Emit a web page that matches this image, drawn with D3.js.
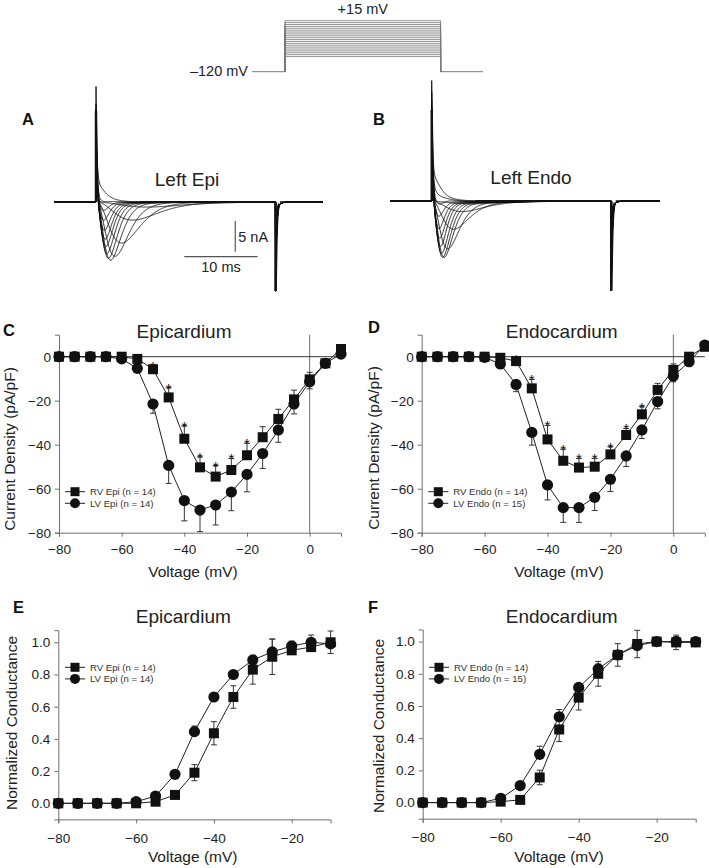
<!DOCTYPE html>
<html><head><meta charset="utf-8">
<script src="https://cdn.jsdelivr.net/npm/d3@7"></script>
<style>body{margin:0;background:#fff} text{font-family:Arial,"Liberation Sans",Helvetica,sans-serif}</style>
</head><body><svg id="c" width="709" height="868" style="background:#fff"></svg>
<script>
// ---------- Protocol ----------
const protocolHolding = -120;
const protocolLevels = [-80,-75,-70,-65,-60,-55,-50,-45,-40,-35,-30,-25,-20,-15,-10,-5,0,5,10,15];
const protocolTimes = [-7, 0, 33, 42]; // schematic ms: start, step on, step off, end

// ---------- Current traces (A: Left Epi, B: Left Endo) ----------
const traceVoltages = [-55,-50,-45,-40,-35,-30,-25,-20,-15,-10,-5,0,5,10];
const epiPeakTime = [7.0,5.0,3.5,2.6,2.0,1.7,1.5,1.35,1.25,1.15,1.05,1.0,0.95,0.9];
const epiPeakAmp  = [-0.8,-2.9,-6.6,-8.7,-9.3,-9.0,-8.2,-7.1,-5.9,-4.5,-2.9,-1.5,-0.4,0.2];
const epiOutward  = [0,0,0,0,0,0,0,0,0,0,0,0.4,1.2,4.0];
const epiSlow     = [0.05,0.1,0.15,0.2,0.25,0.25,0.25,0.22,0.2,0.15,0.1,0.05,0.02,0];
const endoPeakTime = [5.5,4.2,3.0,2.2,1.7,1.5,1.35,1.2,1.1,1.0,0.95,0.9,0.85,0.8];
const endoPeakAmp  = [-0.4,-1.6,-4.4,-7.5,-8.8,-8.8,-8.2,-7.1,-5.8,-4.3,-2.6,-1.1,-0.3,0.6];
const endoOutward  = [0,0,0,0,0,0,0,0,0,0,0.6,1.6,3.0,4.8];
const endoSlow     = [0.1,0.2,0.3,0.4,0.5,0.5,0.45,0.4,0.35,0.3,0.2,0.12,0.06,0];

// ---------- I-V (C, D) ----------
const ivVoltages = [-80,-75,-70,-65,-60,-55,-50,-45,-40,-35,-30,-25,-20,-15,-10,-5,0,5,10];
const rvEpiIV    = [0,0,0,0,0,-1,-5.7,-18.5,-37.3,-50.3,-54.5,-51.5,-44.8,-36.6,-28.3,-19.4,-10.3,-3,3.5];
const rvEpiIVErr = [0,0,0,0,0,0.5,1.5,4.4,5.9,4.8,5,5.3,5.5,4.8,4.4,4.2,3.2,1,1];
const lvEpiIV    = [0,0,0,0,-1,-5.3,-21.5,-49.4,-65.4,-69.7,-67.4,-61.5,-53.5,-44,-33.3,-21.5,-11.4,-3,1.2];
const lvEpiIVErr = [0,0,0,0,0.5,1,4.2,8.2,9.2,9.8,9.1,8.5,7.9,6.8,5.6,4.5,3.2,1,1];
const epiStars   = [-50,-45,-40,-35,-30,-25,-20];
const rvEndoIV    = [0,0,0,0,0,-0.5,-2,-14.4,-37.6,-47.3,-50.4,-50,-44.4,-35.6,-26.2,-15.1,-6,0,4.5];
const rvEndoIVErr = [0,0,0,0,0,0.5,1,4.1,6.4,5.3,4.2,3.8,3.5,3,3.5,3,2.7,1,1];
const lvEndoIV    = [0,0,0,0,-0.3,-3.3,-12.6,-34.4,-58.3,-68.6,-68.6,-63.9,-55.7,-45.1,-33.3,-20.4,-8.8,-2.3,5.3];
const lvEndoIVErr = [0,0,0,0,0.5,1,3.3,5.8,6.8,6.7,6.7,6,5.6,4.8,3.9,3.3,2.6,1,1];
const endoStars   = [-50,-45,-40,-35,-30,-25,-20,-15,-10];
const ivXTicks = [-80,-60,-40,-20,0];
const ivYTicks = [0,-20,-40,-60,-80];

// ---------- Conductance (E, F) ----------
const gVoltages = [-80,-75,-70,-65,-60,-55,-50,-45,-40,-35,-30,-25,-20,-15,-10];
const rvEpiG    = [0,0,0,0,0,0.01,0.052,0.19,0.435,0.66,0.83,0.91,0.95,0.97,1.0];
const rvEpiGErr = [0,0,0,0,0,0.01,0.01,0.05,0.072,0.07,0.09,0.11,0.02,0.02,0.07];
const lvEpiG    = [0,0,0,0,0.01,0.045,0.18,0.445,0.66,0.8,0.89,0.94,0.977,1.0,0.99];
const lvEpiGErr = [0,0,0,0,0,0.01,0.01,0.035,0.02,0.01,0.01,0.08,0.03,0.045,0.02];
const rvEndoG    = [0,0,0,0,0.006,0.017,0.156,0.454,0.652,0.80,0.917,0.985,1.0,0.995,0.995];
const rvEndoGErr = [0,0,0,0,0,0.005,0.045,0.075,0.077,0.077,0.07,0.085,0.01,0.045,0.02];
const lvEndoG    = [0,0,0,0,0.027,0.106,0.30,0.533,0.715,0.83,0.917,0.975,1.0,1.0,1.0];
const lvEndoGErr = [0,0,0,0,0.01,0.01,0.05,0.045,0.01,0.03,0.01,0.01,0.01,0.03,0.01];
const gXTicks = [-80,-60,-40,-20];
const gYTicks = [0,0.2,0.4,0.6,0.8,1.0];

const svg = d3.select('#c');
const FONT = 'Arial, "Liberation Sans", Helvetica, sans-serif';

// ================= Protocol =================
(function(){
  const x = d3.scaleLinear().domain([protocolTimes[0], protocolTimes[3]]).range([252, 483]);
  const y = d3.scaleLinear().domain([-120, 15]).range([71.7, 20.7]);
  const g = svg.append('g').attr('fill','none').attr('stroke','#7a7a7a').attr('stroke-width',1);
  const line = d3.line().x(d=>x(d[0])).y(d=>y(d[1]));
  g.append('path').attr('d', line([[protocolTimes[0],protocolHolding],[protocolTimes[1],protocolHolding]]));
  g.append('path').attr('d', line([[protocolTimes[2],protocolHolding],[protocolTimes[3],protocolHolding]]));
  protocolLevels.forEach(v=>{
    g.append('path').attr('d', line([[protocolTimes[1],protocolHolding],[protocolTimes[1],v],[protocolTimes[2],v],[protocolTimes[2],protocolHolding]]))
      .attr('stroke-width',0.8);
  });
  svg.append('text').attr('x',248).attr('y',76).attr('text-anchor','end').attr('font-size',14.5).attr('fill','#222').text('–120 mV');
  svg.append('text').attr('x',(x(protocolTimes[1])+x(protocolTimes[2]))/2).attr('y',13.5).attr('text-anchor','middle').attr('font-size',14.5).attr('fill','#222').text('+15 mV');
})();

// ================= Traces =================
function gam(t, tp){ if(t<=0) return 0; const r=t/tp; return Math.pow(r,3)*Math.exp(3*(1-r)); }
function tracePanel(o){
  const pxPerMs = 7.33, pxPerNA = 6.13;
  const tStart = (o.xs - o.x0)/pxPerMs, tEnd = (o.xe - o.x0)/pxPerMs, tStep = 24.5;
  const x = d3.scaleLinear().domain([0, 10]).range([o.x0, o.x0 + 10*pxPerMs]);
  const y = d3.scaleLinear().domain([0, 10]).range([o.base, o.base - 10*pxPerNA]);
  const line = d3.line().x(d=>x(d[0])).y(d=>y(d[1]));
  const g = svg.append('g').attr('fill','none').attr('stroke','#111');
  const capAmp = (o.base - o.spikeTop)/pxPerNA;
  const tailAmp = (o.tailBottom - o.base)/pxPerNA;
  o.amp.forEach((a,i)=>{
    const pts = [[tStart,0],[0,0]];
    for(let t=0; t<=tStep; t+=0.04){
      const I = capAmp*Math.exp(-t/0.12) + o.out[i]*Math.exp(-t/1.2) + a*gam(t,o.tp[i])
              - o.slow[i]*(1-Math.exp(-t/0.5))*Math.exp(-t/9);
      pts.push([t,I]);
    }
    const endLevel = pts[pts.length-1][1];
    for(let t=tStep; t<=tEnd; t+=0.04){
      const dt=t-tStep;
      const I = endLevel*Math.exp(-dt/0.3) - tailAmp*Math.exp(-dt/0.13) - 0.5*(1-Math.exp(-dt/0.1))*Math.exp(-dt/0.6);
      pts.push([t,I]);
    }
    pts.push([tEnd,0]);
    g.append('path').attr('d', line(pts)).attr('stroke-width',0.9);
  });
  // capacitive spike & tail spike (thick)
  const sp = [[0,0],[0,capAmp]];
  for(let t=0;t<=0.35;t+=0.02) sp.push([t, capAmp*Math.exp(-t/0.12)]);
  g.append('path').attr('d', line(sp)).attr('stroke-width',2.4);
  const tp = [[tStep,0],[tStep,-tailAmp]];
  for(let t=tStep;t<=tStep+0.5;t+=0.02) tp.push([t, -tailAmp*Math.exp(-(t-tStep)/0.13)]);
  g.append('path').attr('d', line(tp)).attr('stroke-width',2.6);
  g.append('path').attr('d', line([[tStart,0],[0,0]])).attr('stroke-width',1.6);
  g.append('path').attr('d', line([[tStep+0.6,0],[tEnd,0]])).attr('stroke-width',1.6);
  g.append('path').attr('d', line([[6,0],[tStep,0]])).attr('stroke-width',1.8);
  svg.append('text').attr('x',o.titleX).attr('y',o.titleY).attr('text-anchor','middle').attr('font-size',19).attr('fill','#222').text(o.title);
  if(o.scaleBar){
    const sb = svg.append('g').attr('stroke','#555').attr('stroke-width',1.2);
    sb.append('line').attr('x1',x(19)).attr('x2',x(19)).attr('y1',y(-3.1)).attr('y2',y(-8.1));
    sb.append('line').attr('x1',x(12.05)).attr('x2',x(22.05)).attr('y1',y(-8.9)).attr('y2',y(-8.9));
    svg.append('text').attr('x',x(19)+3).attr('y',y(-6.5)).attr('font-size',14.5).attr('fill','#222').text('5 nA');
    svg.append('text').attr('x',x(17.05)).attr('y',y(-8.9)+15).attr('text-anchor','middle').attr('font-size',14.5).attr('fill','#222').text('10 ms');
  }
}
tracePanel({x0:96, xs:54, xe:323, base:202, spikeTop:111, tailBottom:291, amp:epiPeakAmp, tp:epiPeakTime, out:epiOutward, slow:epiSlow, title:'Left Epi', titleX:187, titleY:186, scaleBar:true});
tracePanel({x0:431.7, xs:390.7, xe:660, base:201, spikeTop:110, tailBottom:290.5, amp:endoPeakAmp, tp:endoPeakTime, out:endoOutward, slow:endoSlow, title:'Left Endo', titleX:531, titleY:183.5, scaleBar:false});

// ================= Scatter panels =================
function panel(o){
  const x = d3.scaleLinear().domain(o.xDomain).range(o.xRange);
  const y = d3.scaleLinear().domain(o.yDomain).range(o.yRange);
  const g = svg.append('g');
  const xa = g.append('g').attr('transform',`translate(0,${o.yRange[0]})`)
    .call(d3.axisBottom(x).tickValues(o.xTicks).tickSize(4).tickPadding(o.xPad).tickFormat(o.xFmt));
  const ya = g.append('g').attr('transform',`translate(${o.xRange[0]},0)`)
    .call(d3.axisLeft(y).tickValues(o.yTicks).tickSize(4).tickPadding(4).tickFormat(o.yFmt));
  [xa,ya].forEach(a=>{
    a.selectAll('path,line').attr('stroke','#707070');
    a.selectAll('text').attr('font-size',13.5).attr('fill','#222').attr('font-family',FONT);
  });
  if(o.zeroLines){
    g.append('line').attr('x1',x(0)).attr('x2',x(0)).attr('y1',y(o.yDomain[1])).attr('y2',y(o.yDomain[0])).attr('stroke','#707070');
    g.append('line').attr('x1',x(o.xDomain[0])).attr('x2',x(o.xDomain[1])).attr('y1',y(0)).attr('y2',y(0)).attr('stroke','#222').attr('stroke-width',0.9);
  }
  const line = d3.line().x(d=>x(d[0])).y(d=>y(d[1]));
  o.series.forEach(s=>{
    const pts = o.volts.map((v,i)=>[v,s.vals[i]]);
    g.append('path').attr('d',line(pts)).attr('fill','none').attr('stroke','#222').attr('stroke-width',1);
  });
  o.series.forEach(s=>{
    const eg = g.append('g').attr('stroke','#333').attr('stroke-width',1);
    o.volts.forEach((v,i)=>{
      const e = s.err[i]; if(!e) return;
      const ends = s.errDir==='both' ? [1,-1] : [s.errDir==='up'?1:-1];
      ends.forEach(d=>{
        const yv = y(s.vals[i]+d*e);
        eg.append('line').attr('x1',x(v)).attr('x2',x(v)).attr('y1',y(s.vals[i])).attr('y2',yv);
        eg.append('line').attr('x1',x(v)-3).attr('x2',x(v)+3).attr('y1',yv).attr('y2',yv);
      });
    });
  });
  o.series.forEach(s=>{
    o.volts.forEach((v,i)=>{
      if(s.shape==='square') g.append('rect').attr('x',x(v)-5).attr('y',y(s.vals[i])-5).attr('width',10).attr('height',10).attr('fill','#111');
      else g.append('circle').attr('cx',x(v)).attr('cy',y(s.vals[i])).attr('r',5.6).attr('fill','#111');
    });
  });
  if(o.stars){
    const s = o.series[0];
    o.stars.forEach(v=>{
      const i = o.volts.indexOf(v);
      const cy = y(s.vals[i]+s.err[i]);
      g.append('text').attr('x',x(v)).attr('y',cy+6).attr('text-anchor','middle').attr('font-size',15).attr('fill','#111').text('*');
    });
  }
  // legend
  o.series.forEach((s,k)=>{
    const ly = o.legend[1] + k*11.6, lx = o.legend[0];
    g.append('line').attr('x1',lx-10).attr('x2',lx+10).attr('y1',ly).attr('y2',ly).attr('stroke','#222');
    if(s.shape==='square') g.append('rect').attr('x',lx-4.5).attr('y',ly-4.5).attr('width',9).attr('height',9).attr('fill','#111');
    else g.append('circle').attr('cx',lx).attr('cy',ly).attr('r',5).attr('fill','#111');
    g.append('text').attr('x',lx+15).attr('y',ly).attr('dy','0.35em').attr('font-size',9.6).attr('fill','#333').text(s.name);
  });
  svg.append('text').attr('x',o.title[1]).attr('y',o.title[2]).attr('text-anchor','middle').attr('font-size',19).attr('fill','#222').text(o.title[0]);
  svg.append('text').attr('x',o.xTitle[0]).attr('y',o.xTitle[1]).attr('text-anchor','middle').attr('font-size',15.5).attr('fill','#222').text('Voltage (mV)');
  svg.append('text').attr('transform',`translate(${o.yTitle[1]},${o.yTitle[2]}) rotate(-90)`).attr('text-anchor','middle').attr('font-size',15.5).attr('fill','#222').text(o.yTitle[0]);
}

const fmtInt = d3.format('d');
const fmt1 = d3.format('.1f');
panel({xDomain:[-80,10], xRange:[59,341], yDomain:[-80,10], yRange:[532.7,334.7], xTicks:ivXTicks, yTicks:ivYTicks, xFmt:fmtInt, yFmt:fmtInt, xPad:8, zeroLines:true,
  volts:ivVoltages, series:[{name:'RV Epi (n = 14)',vals:rvEpiIV,err:rvEpiIVErr,errDir:'up',shape:'square'},{name:'LV Epi (n = 14)',vals:lvEpiIV,err:lvEpiIVErr,errDir:'down',shape:'circle'}],
  stars:epiStars, legend:[75,491.7], title:['Epicardium',184,338.3], xTitle:[193,576.7], yTitle:['Current Density (pA/pF)',15,449]});
panel({xDomain:[-80,10], xRange:[421.7,704.8], yDomain:[-80,10], yRange:[532.7,334.7], xTicks:ivXTicks, yTicks:ivYTicks, xFmt:fmtInt, yFmt:fmtInt, xPad:8, zeroLines:true,
  volts:ivVoltages, series:[{name:'RV Endo (n = 14)',vals:rvEndoIV,err:rvEndoIVErr,errDir:'up',shape:'square'},{name:'LV Endo (n = 15)',vals:lvEndoIV,err:lvEndoIVErr,errDir:'down',shape:'circle'}],
  stars:endoStars, legend:[438.3,491.7], title:['Endocardium',561.7,338.3], xTitle:[559,576.7], yTitle:['Current Density (pA/pF)',379,448]});
panel({xDomain:[-80,-10], xRange:[58.3,330.6], yDomain:[-0.1,1.075], yRange:[819.4,630.2], xTicks:gXTicks, yTicks:gYTicks, xFmt:fmtInt, yFmt:fmt1, xPad:10, zeroLines:false,
  volts:gVoltages, series:[{name:'RV Epi (n = 14)',vals:rvEpiG,err:rvEpiGErr,errDir:'both',shape:'square'},{name:'LV Epi (n = 14)',vals:lvEpiG,err:lvEpiGErr,errDir:'up',shape:'circle'}],
  legend:[75,667.3], title:['Epicardium',183.3,623.3], xTitle:[192.7,861.7], yTitle:['Normalized Conductance',17,723]});
panel({xDomain:[-80,-10], xRange:[422.7,695.7], yDomain:[-0.1,1.075], yRange:[818.7,629.5], xTicks:gXTicks, yTicks:gYTicks, xFmt:fmtInt, yFmt:fmt1, xPad:10, zeroLines:false,
  volts:gVoltages, series:[{name:'RV Endo (n = 14)',vals:rvEndoG,err:rvEndoGErr,errDir:'both',shape:'square'},{name:'LV Endo (n = 15)',vals:lvEndoG,err:lvEndoGErr,errDir:'up',shape:'circle'}],
  legend:[439,667.3], title:['Endocardium',561.7,623.3], xTitle:[559,861.7], yTitle:['Normalized Conductance',384,726]});

// panel letters
[['A',22,125],['B',373,125],['C',3,336],['D',368,333.3],['E',13,613.3],['F',368,613.3]].forEach(l=>{
  svg.append('text').attr('x',l[1]).attr('y',l[2]).attr('font-size',16.5).attr('font-weight','bold').attr('fill','#111').text(l[0]);
});
</script></body></html>
